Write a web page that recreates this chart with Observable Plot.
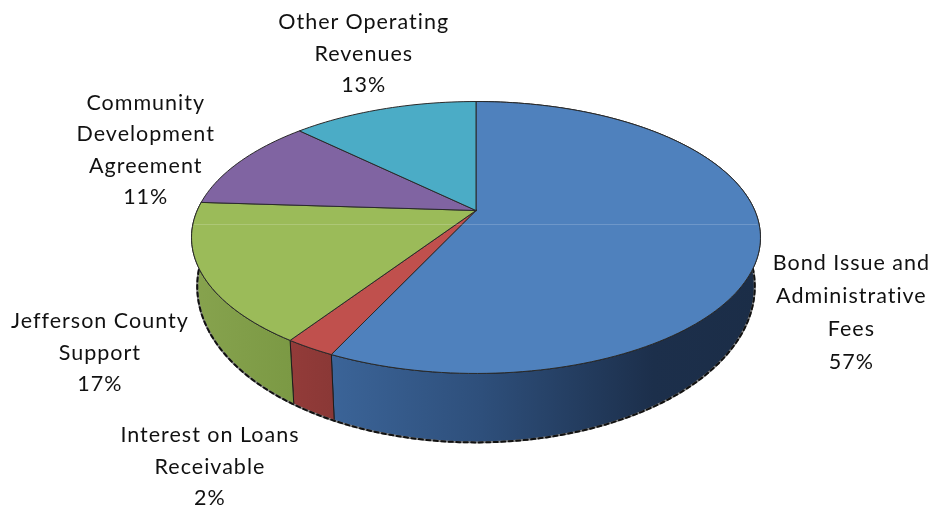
<!DOCTYPE html>
<html>
<head>
<meta charset="utf-8">
<style>html,body{margin:0;padding:0;background:#fff;overflow:hidden}svg{display:block}</style>
<script src="https://cdn.jsdelivr.net/npm/d3@7"></script>
<script src="https://cdn.jsdelivr.net/npm/@observablehq/plot@0.6"></script>
</head>
<body>
<script>
const categories = ["Bond Issue and\nAdministrative\nFees", "Interest on Loans\nReceivable", "Jefferson County\nSupport", "Community\nDevelopment\nAgreement", "Other Operating\nRevenues"];
const shares = [57.0, 2.4, 16.6, 11.2, 12.8];
const percentLabels = ["57%", "2%", "17%", "11%", "13%"];
const topColors = ["#4f81bd", "#c0504d", "#9bbb59", "#8064a2", "#4bacc6"];
const sideFills = ["url(#sideBlue)", "url(#sideRed)", "url(#sideGreen)", "none", "none"];

// 3D pie projection: perspective-tilted disc with a wall below it
const cx = 475.5, cy = 210, R = 278.8, A = 130.6, K = 0.1985;
function topRim(deg) {
  const t = deg * Math.PI / 180, X = Math.sin(t), Y = -Math.cos(t), w = 1 - K * Y;
  return [cx + R * X / w, cy + A * Y / w];
}
function bottomRim(deg) {
  const [x, y] = topRim(deg), dy = y - cy;
  return [cx + 0.98 * (x - cx), y + 45 + 0.147 * dy];
}
function arc(fn, a, b) {
  const n = Math.max(2, Math.ceil(Math.abs(b - a) / 1.5));
  return d3.range(n + 1).map(i => fn(a + (b - a) * i / n));
}

let acc = 0;
const slices = shares.map((s, i) => {
  const a = acc * 3.6; acc += s; const b = acc * 3.6;
  return {i, a, b, mid: (a + b) / 2};
});
const rows = pts => pts.map(([x, y]) => ({x, y}));
const poly = (pts, opts) => Plot.line(rows(pts), {x: "x", y: "y", curve: "linear", ...opts});

const marks = [];
// walls
for (const s of slices.slice(0, 3)) {
  const pts = [...arc(topRim, s.a, s.b), ...arc(bottomRim, s.b, s.a)];
  marks.push(poly([...pts, pts[0]], {fill: sideFills[s.i], stroke: "#1c1c1c", strokeWidth: 1}));
}
// jagged lower rim
const rim = arc(bottomRim, 84, 274);
marks.push(poly(rim, {stroke: "#8a8a8a", strokeWidth: 2}));
marks.push(poly(rim, {stroke: "#111", strokeWidth: 2, strokeDasharray: "4,3.5"}));
// top faces
for (const s of slices) {
  const pts = [[cx, cy], ...arc(topRim, s.a, s.b), [cx, cy]];
  marks.push(poly(pts, {fill: topColors[s.i], stroke: "#2a2a2a", strokeWidth: 1}));
}
// faint seam across the top face
const seamY = 224;
const all = arc(topRim, 0, 360).filter(p => Math.abs(p[1] - seamY) < 4);
marks.push(Plot.ruleY([seamY], {x1: d3.min(all, p => p[0]) + 2, x2: d3.max(all, p => p[0]) - 2, stroke: "#fff", strokeOpacity: 0.18, strokeWidth: 1}));
// labels, offset from the rim at each slice's middle
const labelOffsets = [[91, 68.5], [-100, 116], [-102, 76], [-94, -15], [-20, -58]];
slices.forEach(s => {
  const [x, y] = topRim(s.mid);
  marks.push(Plot.text([categories[s.i] + "\n" + percentLabels[s.i]], {
    x: () => x, y: () => y, text: d => d,
    dx: labelOffsets[s.i][0], dy: labelOffsets[s.i][1],
    fontSize: 21.5, lineHeight: s.i === 0 ? 1.535 : 1.465, textAnchor: "middle", lineAnchor: "middle", fill: "#111"
  }));
});

const plot = Plot.plot({
  width: 934, height: 510, margin: 0,
  x: {domain: [0, 934], range: [0, 934], axis: null},
  y: {domain: [0, 510], range: [0, 510], axis: null},
  style: {fontFamily: "Lato", background: "#fff", filter: "blur(0.45px)", letterSpacing: "1px"},
  marks
});
plot.insertAdjacentHTML("afterbegin", `<defs>
<linearGradient id="sideBlue"><stop offset="0" stop-color="#3b6498"/><stop offset="0.35" stop-color="#2e4f7b"/><stop offset="0.75" stop-color="#1c2f4b"/><stop offset="1" stop-color="#1b2d47"/></linearGradient>
<linearGradient id="sideRed"><stop offset="0" stop-color="#933b39"/><stop offset="1" stop-color="#8a3836"/></linearGradient>
<linearGradient id="sideGreen"><stop offset="0" stop-color="#87a34e"/><stop offset="1" stop-color="#7b9944"/></linearGradient>
</defs>`);
document.body.appendChild(plot);
</script>
</body>
</html>
